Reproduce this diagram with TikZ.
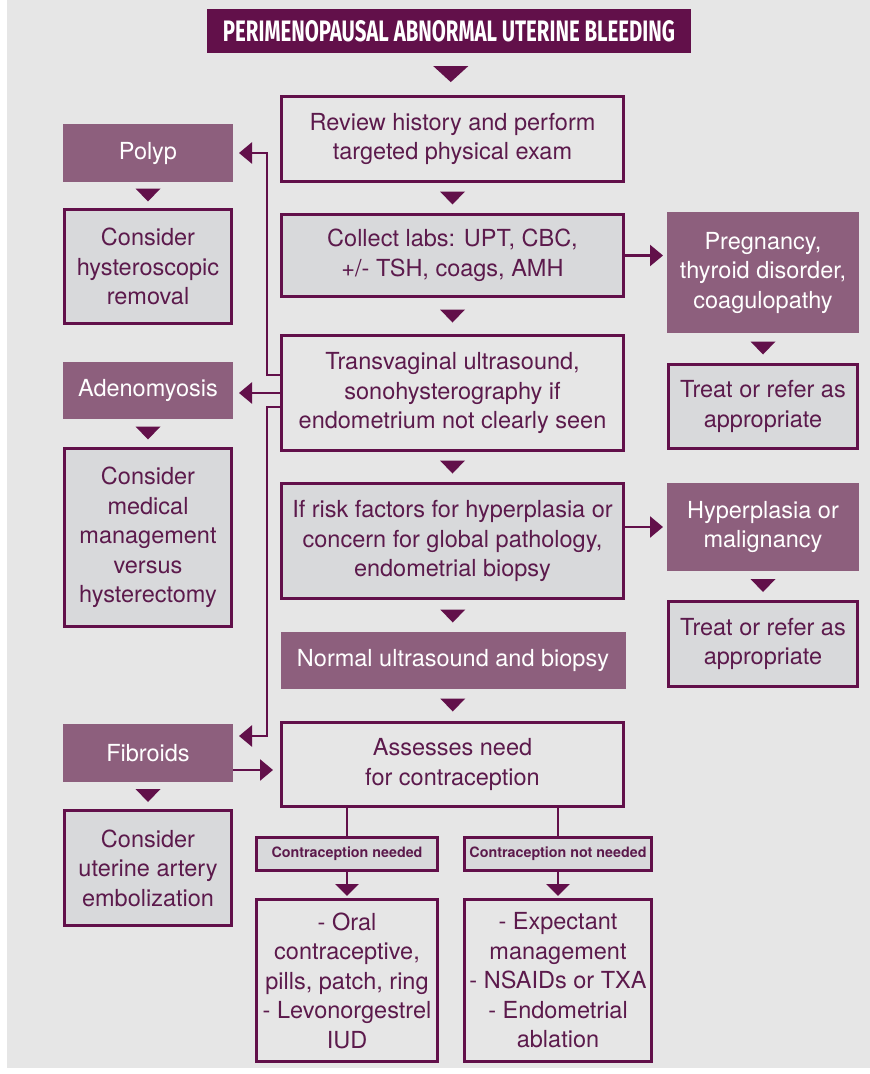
\documentclass[tikz,border=0pt]{standalone}
\usepackage{fontspec}
\setmainfont{TeX Gyre Heros}
\newfontfamily\titlefont{Fira Sans}
\usepackage{graphicx}
\usetikzlibrary{arrows.meta,calc}
\definecolor{plum}{HTML}{62104A}
\definecolor{tagplum}{HTML}{8D5F7D}
\definecolor{shade}{HTML}{D8D9DB}
\definecolor{paper}{HTML}{E6E6E6}
\definecolor{ink}{HTML}{5C1A4C}
\newcommand\boxfont{\fontsize{23.5}{29.5}\selectfont}
\newcommand\tagfont{\fontsize{14.3}{17}\selectfont\bfseries}
% filled pointer half way between two nodes
\newcommand\gapmark[4]{\fill[plum] ($(#1.south)!.5!(#2.north)$) ++(-#3/2,-#4/2) -- ++(#3,0) -- ++(-#3/2,#4) -- cycle;}

\begin{document}
\begin{tikzpicture}[x=1pt,y=-1pt,
  box/.style={draw=plum, line width=3pt, text=ink, align=center, font=\boxfont, inner sep=0pt},
  shaded/.style={box, fill=shade},
  tag/.style={draw=tagplum, fill=tagplum, line width=3pt, text=white, align=center, font=\boxfont, inner sep=0pt},
  midcol/.style={minimum width=342},
  leftcol/.style={minimum width=167},
  rightcol/.style={minimum width=189},
  link/.style={draw=plum, line width=2.6pt},
  arrow/.style={link, -{Triangle[length=13pt,width=21pt]}, shorten >=6pt}]
  \useasboundingbox (0,0) rectangle (870,1074);
  \fill[white] (0,0) rectangle (870,1074);
  \fill[paper] (7,0) rectangle (870,1068);

  % title
  \node[fill=plum, minimum width=484, minimum height=44, inner sep=0pt, text=white] (title) at (449,31)
    {\resizebox{452pt}{21pt}{\titlefont\bfseries PERIMENOPAUSAL ABNORMAL UTERINE BLEEDING}};

  % middle column
  \node[box, midcol, minimum height=85] (review) at (452.5,139)
    {Review history and perform\\targeted physical exam};
  \node[shaded, midcol, minimum height=82] (labs) at (452.5,255.5)
    {Collect labs: UPT, CBC,\\+/- TSH, coags, AMH};
  \node[box, midcol, minimum height=115] (tvus) at (452.5,393)
    {Transvaginal ultrasound,\\sonohysterography if\\endometrium not clearly seen};
  \node[shaded, midcol, minimum height=115] (risk) at (452.5,541)
    {If risk factors for hyperplasia or\\concern for global pathology,\\endometrial biopsy};
  \node[tag, midcol, minimum height=54] (normal) at (453,660.5) {Normal ultrasound and biopsy};
  \node[box, midcol, minimum height=84] (assess) at (452.5,764.5)
    {Assesses need\\for contraception};

  % contraception branches
  \node[shaded, minimum width=181, minimum height=33, font=\tagfont] (needlbl) at (347,854)
    {Contraception needed};
  \node[shaded, minimum width=187, minimum height=33, font=\tagfont] (notlbl) at (558,854)
    {Contraception not needed};
  \node[box, minimum width=181, minimum height=162] (ocbox) at (347,980.5)
    {- Oral\\contraceptive,\\pills, patch, ring\\- Levonorgestrel\\IUD};
  \node[box, minimum width=187, minimum height=162] (expbox) at (558,980.5)
    {- Expectant\\management\\- NSAIDs or TXA\\- Endometrial\\ablation};

  % left column
  \node[tag, leftcol, minimum height=55] (polyp) at (148,153) {Polyp};
  \node[shaded, leftcol, minimum height=114] (hysterbox) at (148,266.5)
    {Consider\\hysteroscopic\\removal};
  \node[tag, leftcol, minimum height=54] (adeno) at (148,390.5) {Adenomyosis};
  \node[shaded, leftcol, minimum height=178] (medbox) at (148,537.5)
    {Consider\\medical\\management\\versus\\hysterectomy};
  \node[tag, leftcol, minimum height=55] (fibroid) at (148,753) {Fibroids};
  \node[shaded, leftcol, minimum height=115] (uaebox) at (148,868)
    {Consider\\uterine artery\\embolization};

  % right column
  \node[tag, rightcol, minimum height=118] (preg) at (763,272.5)
    {Pregnancy,\\thyroid disorder,\\coagulopathy};
  \node[shaded, rightcol, minimum height=84] (treatone) at (763,406.5)
    {Treat or refer as\\appropriate};
  \node[tag, rightcol, minimum height=85] (hyper) at (763,527)
    {Hyperplasia or\\malignancy};
  \node[shaded, rightcol, minimum height=85] (treattwo) at (763,644)
    {Treat or refer as\\appropriate};

  % pointers
  \gapmark{title}{review}{35}{16}
  \gapmark{review}{labs}{25}{13}
  \gapmark{labs}{tvus}{25}{13}
  \gapmark{tvus}{risk}{25}{13}
  \gapmark{risk}{normal}{25}{13}
  \gapmark{normal}{assess}{25}{13}
  \gapmark{polyp}{hysterbox}{25}{13}
  \gapmark{adeno}{medbox}{25}{13}
  \gapmark{fibroid}{uaebox}{25}{13}
  \gapmark{preg}{treatone}{25}{13}
  \gapmark{hyper}{treattwo}{25}{13}

  % connectors
  \coordinate (tvtop) at ([yshift=18pt]tvus.west);
  \coordinate (tvlow) at ([yshift=-14pt]tvus.west);
  \coordinate (fibin) at ([yshift=17pt]fibroid.east);
  \coordinate (fibout) at ([yshift=-17pt]fibroid.east);
  \draw[arrow] (tvtop) -- ++(-13,0) |- (polyp.east);
  \draw[arrow] (tvus.west) -- (tvus.west -| adeno.east);
  \draw[arrow] (tvlow) -- ++(-13,0) |- (fibin);
  \draw[arrow, shorten >=7pt] (fibout) -- (fibout -| assess.west);
  \draw[arrow, shorten >=4pt] (labs.east) -- (labs.east -| preg.west);
  \draw[arrow, shorten >=4pt] (risk.east |- hyper.west) -- (hyper.west);
  \draw[link] (assess.south -| needlbl.north) -- (needlbl.north);
  \draw[link] (assess.south -| notlbl.north) -- (notlbl.north);
  \draw[link, -{Triangle[length=12pt,width=23pt]}, shorten >=2pt] (needlbl.south) -- (ocbox.north);
  \draw[link, -{Triangle[length=12pt,width=23pt]}, shorten >=2pt] (notlbl.south) -- (expbox.north);
\end{tikzpicture}
\end{document}
